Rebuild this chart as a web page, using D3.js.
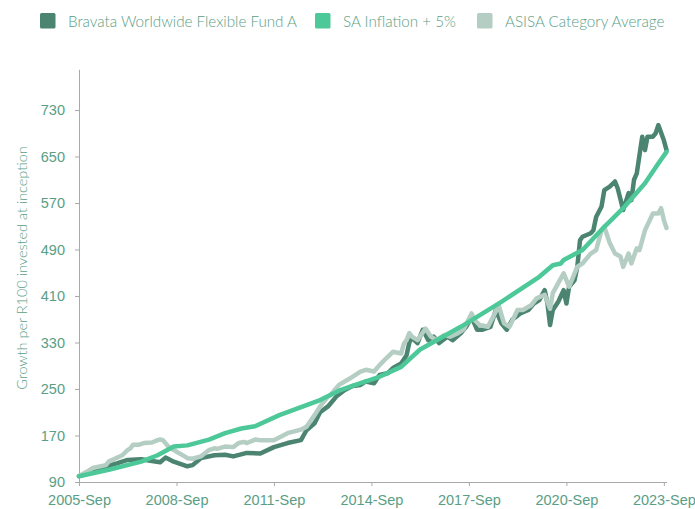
<!DOCTYPE html>
<html>
<head>
<meta charset="utf-8">
<script src="https://cdn.jsdelivr.net/npm/d3@7"></script>
<style>
  body { margin: 0; background: #fff; }
  svg { display: block; font-family: Lato, "Open Sans", sans-serif; font-weight: 300; }
  .tick text { fill: #5a9e85; font-size: 14.5px; }
  .tick line, .domain { stroke: #a9a9a9; }
</style>
</head>
<body>
<div id="chart"></div>
<script>
//series names and colours
var seriesNames = ["Bravata Worldwide Flexible Fund A", "SA Inflation + 5%", "ASISA Category Average"];
var seriesColors = ["#4b8471", "#4dc898", "#b5cec4"];

//tick labels
var yTicks = [90, 170, 250, 330, 410, 490, 570, 650, 730];
var xTicks = ["2005-09", "2008-09", "2011-09", "2014-09", "2017-09", "2020-09", "2023-09"];

//Bravata fund
var fund = [
  ["2005-09",100],["2006-03",108],["2006-08",118],["2006-11",122],["2007-03",128],["2007-08",129],
  ["2007-12",126],["2008-03",124],["2008-05",132],["2008-08",125],["2009-01",117],["2009-03",119],
  ["2009-06",131],["2009-11",136],["2010-03",137],["2010-06",134],["2010-11",140],["2011-04",139],
  ["2011-09",150],["2012-02",157],["2012-07",162],["2012-09",179],["2012-12",191],["2013-02",210],
  ["2013-05",220],["2013-07",231],["2013-08",237],["2013-11",248],["2014-02",255],["2014-05",257],
  ["2014-07",263],["2014-10",260],["2014-12",274],["2015-03",277],["2015-05",286],["2015-08",294],
  ["2015-10",308],["2015-11",330],["2015-12",338],["2016-02",329],["2016-04",352],["2016-06",334],
  ["2016-08",340],["2016-10",329],["2017-01",340],["2017-03",334],["2017-06",346],["2017-08",357],
  ["2017-10",374],["2017-12",352],["2018-02",352],["2018-05",357],["2018-07",386],["2018-09",363],
  ["2018-11",352],["2019-01",369],["2019-04",380],["2019-07",386],["2019-09",397],["2019-11",403],
  ["2020-01",420],["2020-02",397],["2020-03",360],["2020-04",386],["2020-06",400],["2020-08",420],
  ["2020-09",397],["2020-10",426],["2020-12",437],["2021-01",460],["2021-02",506],["2021-03",512],
  ["2021-06",518],["2021-07",523],["2021-08",546],["2021-10",564],["2021-11",592],["2022-01",598],
  ["2022-03",607],["2022-04",595],["2022-06",558],["2022-08",587],["2022-09",575],["2022-10",610],
  ["2022-11",621],["2023-01",684],["2023-02",661],["2023-03",684],["2023-05",684],["2023-06",690],
  ["2023-07",704],["2023-09",678],["2023-10",661]
];

//CPI + 5%
var inflation = [
  ["2005-09",100],["2006-08",111],["2007-08",125],["2008-02",136],["2008-08",151],["2009-01",153],
  ["2009-09",163],["2010-03",174],["2010-09",182],["2011-02",186],["2011-11",205],["2013-02",231],
  ["2013-09",247],["2014-05",260],["2014-12",271],["2015-08",288],["2016-03",318],["2017-06",357],
  ["2018-09",400],["2019-11",443],["2020-04",463],["2020-07",466],["2020-08",472],["2021-03",489],
  ["2021-11",529],["2022-06",561],["2023-02",604],["2023-07",638],["2023-10",658]
];

//ASISA category average
var asisa = [
  ["2005-09",100],["2005-12",108],["2006-02",114],["2006-07",119],["2006-08",125],["2007-01",136],
  ["2007-03",145],["2007-04",148],["2007-05",154],["2007-07",154],["2007-09",157],["2007-12",158],
  ["2008-02",162],["2008-03",163],["2008-04",162],["2008-06",151],["2008-08",145],["2008-12",134],
  ["2009-01",131],["2009-03",130],["2009-06",134],["2009-09",145],["2009-11",148],["2009-12",147],
  ["2010-03",151],["2010-06",150],["2010-08",157],["2010-10",159],["2010-11",157],["2011-02",163],
  ["2011-04",162],["2011-09",162],["2012-02",174],["2012-07",180],["2012-09",185],["2012-12",205],
  ["2013-02",220],["2013-05",237],["2013-06",240],["2013-09",257],["2014-01",268],["2014-05",280],
  ["2014-07",283],["2014-10",280],["2014-12",291],["2015-03",305],["2015-05",314],["2015-08",311],
  ["2015-09",328],["2015-10",334],["2015-11",346],["2015-12",340],["2016-02",334],["2016-05",354],
  ["2016-07",340],["2016-09",334],["2016-12",343],["2017-02",340],["2017-05",346],["2017-07",352],
  ["2017-10",380],["2017-11",369],["2018-01",360],["2018-04",357],["2018-06",374],["2018-08",394],
  ["2018-10",363],["2018-12",357],["2019-03",386],["2019-05",386],["2019-08",394],["2019-10",406],
  ["2020-01",412],["2020-03",388],["2020-04",415],["2020-06",432],["2020-08",449],["2020-10",426],
  ["2021-01",460],["2021-03",466],["2021-06",483],["2021-08",489],["2021-10",523],["2021-11",529],
  ["2022-01",501],["2022-03",483],["2022-05",478],["2022-06",460],["2022-08",483],["2022-09",466],
  ["2022-11",492],["2022-12",489],["2023-02",523],["2023-03",532],["2023-05",552],["2023-07",552],
  ["2023-08",561],["2023-09",541],["2023-10",527]
];

var width = 695, height = 509;
var parse = d3.timeParse("%Y-%m");

var svg = d3.select("#chart").append("svg")
    .attr("width", width)
    .attr("height", height);

//scales
var x = d3.scaleTime()
    .domain([parse("2005-09"), parse("2023-10")])
    .range([79, 666.5]);

var y = d3.scaleLinear()
    .domain([90, 800])
    .range([482, 69.3]);

//axes
svg.append("g")
    .attr("transform", "translate(0,482)")
    .call(d3.axisBottom(x)
        .tickValues(xTicks.map(parse))
        .tickFormat(d3.timeFormat("%Y-%b"))
        .tickSize(4).tickSizeOuter(0).tickPadding(9));

svg.append("g")
    .attr("transform", "translate(79,0)")
    .call(d3.axisLeft(y)
        .tickValues(yTicks)
        .tickSize(4).tickSizeOuter(0).tickPadding(10));

svg.append("text")
    .attr("transform", "translate(27,268) rotate(-90)")
    .attr("text-anchor", "middle")
    .style("fill", "#5a9e85")
    .style("font-size", "14.5px")
    .text("Growth per R100 invested at inception");

//lines
var line = d3.line()
    .x(function(d) { return x(parse(d[0])); })
    .y(function(d) { return y(d[1]); });

var drawOrder = [[fund, 0], [asisa, 2], [inflation, 1]];
drawOrder.forEach(function(s) {
  svg.append("path")
      .datum(s[0])
      .attr("d", line)
      .attr("fill", "none")
      .attr("stroke", seriesColors[s[1]])
      .attr("stroke-width", 4.5)
      .attr("stroke-linejoin", "round")
      .attr("stroke-linecap", "round");
});

//legend
var legendX = [40, 315, 477];
var legend = svg.append("g");
seriesNames.forEach(function(name, i) {
  legend.append("rect")
      .attr("x", legendX[i]).attr("y", 13)
      .attr("width", 15.5).attr("height", 15.5)
      .attr("rx", 1.5)
      .attr("fill", seriesColors[i]);
  legend.append("text")
      .attr("x", legendX[i] + 28).attr("y", 26.5)
      .style("fill", "#5a9e85")
      .style("font-size", "15.2px")
      .text(name);
});
</script>
</body>
</html>
